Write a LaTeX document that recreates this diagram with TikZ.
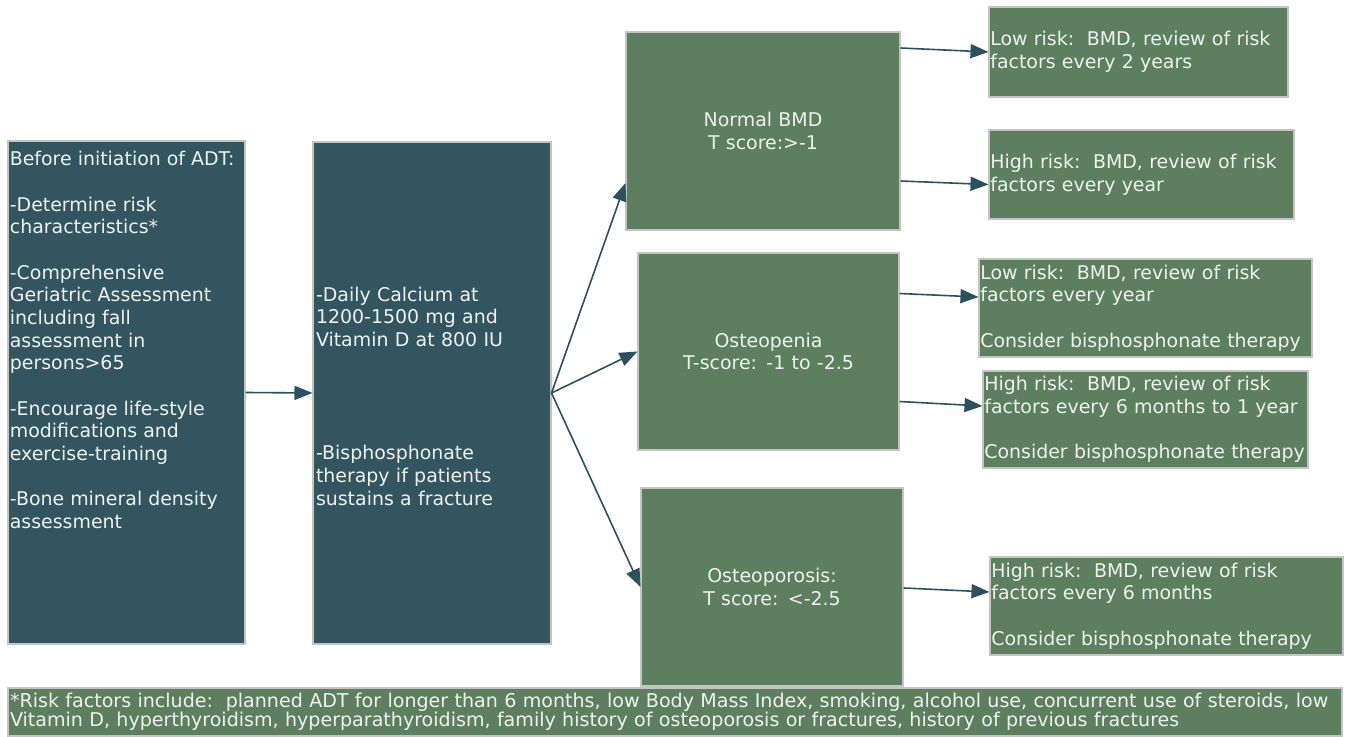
\documentclass[tikz,border=0pt]{standalone}
\usepackage{fontspec}
\setmainfont{DejaVu Sans}
\usetikzlibrary{arrows.meta,calc}
\definecolor{boxteal}{RGB}{51,85,95}
\definecolor{boxgreen}{RGB}{93,127,95}
\definecolor{edgegray}{RGB}{195,198,192}
\definecolor{arrowteal}{RGB}{44,80,94}
\definecolor{txtwhite}{RGB}{238,242,238}
\newcommand{\mainfs}{\fontsize{14.2pt}{17pt}\selectfont}
\newcommand{\footfs}{\fontsize{14.3pt}{14.3pt}\selectfont}
\begin{document}
\begin{tikzpicture}[x=0.75pt,y=-0.75pt,
  basebox/.style={draw=edgegray, line width=0.8pt, text=txtwhite, font=\mainfs, inner ysep=0pt},
  tealbox/.style={basebox, fill=boxteal},
  greenbox/.style={basebox, fill=boxgreen},
  leftgreen/.style={greenbox, align=left, inner xsep=1pt},
  midgreen/.style={greenbox, align=center, inner xsep=0pt},
  arr/.style={draw=arrowteal, line width=1.2pt, -{Triangle[length=13.5pt,width=10.5pt]}}]
\useasboundingbox (0,0) rectangle (1350,737);

% left column
\node[tealbox, minimum width=177.75pt, minimum height=377.25pt,
  label={[anchor=north west, inner sep=0pt, align=left, text=txtwhite, font=\mainfs, xshift=1.6pt, yshift=-8pt]north west:{Before initiation of ADT:\\[17pt]
-Determine risk\\characteristics*\\[17pt]
-Comprehensive\\Geriatric Assessment\\including fall\\assessment in\\persons>65\\[17pt]
-Encourage life-style\\modifications and\\exercise-training\\[17pt]
-Bone mineral density\\assessment}}] (A) at (126.5,392.5) {};

\node[tealbox, align=left, inner xsep=2.25pt, text width=174pt, minimum width=178.5pt, minimum height=376.5pt] (B) at (432,393)
  {\rule{0pt}{15.3pt}-Daily Calcium at\\1200-1500 mg and\\Vitamin D at 800 IU\\[68pt]-Bisphosphonate\\therapy if patients\\sustains a fracture};

% classification boxes
\node[midgreen, text width=205.5pt, minimum height=148.5pt] (C) at (763,131) {Normal BMD\\T score:>-1};
\node[midgreen, text width=195.75pt, minimum height=147.75pt] (D) at (768.5,351.5) {Osteopenia\\T-score: -1 to -2.5};
\node[midgreen, text width=196.5pt, minimum height=148.5pt] (E) at (772,587) {Osteoporosis:\\T score: <-2.5};

% recommendation boxes
\node[leftgreen, text width=222.25pt, minimum height=67.5pt] (F1) at (1138.5,52)
  {Low risk:\ \ BMD, review of risk\\factors every 2 years};
\node[leftgreen, text width=226.75pt, minimum height=66.75pt] (F2) at (1141.5,174.5)
  {High risk:\ \ BMD, review of risk\\factors every year};
\node[leftgreen, text width=247.75pt, minimum height=73.5pt] (G1) at (1145.5,308)
  {Low risk:\ \ BMD, review of risk\\factors every year\\[17pt]Consider bisphosphonate therapy};
\node[leftgreen, text width=241.75pt, minimum height=72.75pt] (G2) at (1145.5,419.5)
  {High risk:\ \ BMD, review of risk\\factors every 6 months to 1 year\\[17pt]Consider bisphosphonate therapy};
\node[leftgreen, text width=262.75pt, minimum height=73.5pt] (H) at (1166.5,606)
  {High risk:\ \ BMD, review of risk\\factors every 6 months\\[17pt]Consider bisphosphonate therapy};

% footer
\node[greenbox, align=left, inner xsep=1.5pt, text width=997.5pt, minimum height=36pt, font=\footfs] (foot) at (675,712)
  {*Risk factors include:\ \ planned ADT for longer than 6 months, low Body Mass Index, smoking, alcohol use, concurrent use of steroids, low\\Vitamin D, hyperthyroidism, hyperparathyroidism, family history of osteoporosis or fractures, history of previous fractures};

% connectors
\draw[arr] (A.east) -- (B.west);
\draw[arr] (B.east) -- ($(C.west)+(0,52)$);
\draw[arr] (B.east) -- (D.west);
\draw[arr] (B.east) -- (E.west);
\draw[arr] ($(C.east)+(0,-83)$) -- (F1.west);
\draw[arr] ($(C.east)+(0,50)$) -- ($(F2.west)+(0,10)$);
\draw[arr] ($(D.east)+(0,-58)$) -- ($(G1.west)+(0,-11)$);
\draw[arr] ($(D.east)+(0,50)$) -- ($(G2.west)+(0,-13.5)$);
\draw[arr] ($(E.east)+(0,1)$) -- ($(H.west)+(0,-14)$);
\end{tikzpicture}
\end{document}
